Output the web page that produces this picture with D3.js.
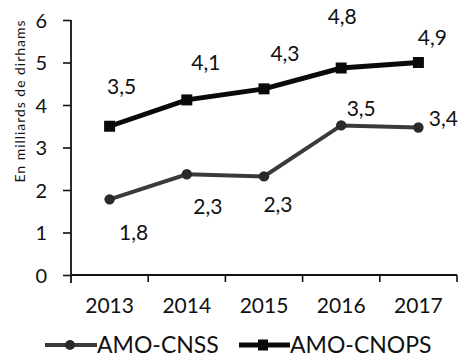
<!DOCTYPE html>
<html>
<head>
<meta charset="utf-8">
<script src="https://cdn.jsdelivr.net/npm/d3@7"></script>
<style>
html,body{margin:0;padding:0;background:#fff;}
svg{display:block;}
text{font-family:Lato,"Open Sans",sans-serif;fill:#111;}
</style>
</head>
<body>
<svg id="chart" width="458" height="358"></svg>
<script>
// ---- data ----
const years = ["2013", "2014", "2015", "2016", "2017"];
const cnssValues = [1.78, 2.37, 2.32, 3.52, 3.47];
const cnopsValues = [3.5, 4.12, 4.38, 4.87, 5.0];
const cnssLabels = ["1,8", "2,3", "2,3", "3,5", "3,4"];
const cnopsLabels = ["3,5", "4,1", "4,3", "4,8", "4,9"];
const yTicks = [0, 1, 2, 3, 4, 5, 6];
const seriesNames = ["AMO-CNSS", "AMO-CNOPS"];
const yTitle = "En milliards de dirhams";

// label placement offsets (pixels, relative to the point)
const cnssLabelOffsets = [[24, 33], [21, 32], [14, 28], [20, -17], [25, -9]];
const cnopsLabelOffsets = [[12, -40], [19, -37], [21, -35], [1, -52], [14, -25]];

// ---- layout ----
const svg = d3.select("#chart");
const mLeft = 71, mRight = 457, mTop = 20, mBottom = 275;

const x = d3.scaleBand().domain(years).range([mLeft, mRight]).paddingInner(0).paddingOuter(0);
const y = d3.scaleLinear().domain([0, 6]).range([mBottom, mTop]);
const cx = d => x(d) + x.bandwidth() / 2;

// y axis
const yAxis = svg.append("g")
  .attr("transform", `translate(${mLeft},0)`)
  .call(d3.axisLeft(y).tickValues(yTicks).tickSize(8).tickSizeOuter(0).tickPadding(16).tickFormat(d3.format("d")));
yAxis.select(".domain").remove();
yAxis.selectAll(".tick line").attr("stroke", "#111").attr("stroke-width", 1.6);
yAxis.selectAll(".tick text").attr("font-size", 20).attr("font-family", "Lato").attr("fill", "#111").attr("dy", "0.36em");
svg.append("line").attr("x1", mLeft).attr("x2", mLeft).attr("y1", y(6)).attr("y2", mBottom + 8)
  .attr("stroke", "#111").attr("stroke-width", 1.8);

// x axis
svg.append("line").attr("x1", mLeft).attr("x2", mRight).attr("y1", mBottom).attr("y2", mBottom)
  .attr("stroke", "#111").attr("stroke-width", 1.8);
const boundaries = years.map(d => x(d)).concat([x(years[years.length - 1]) + x.bandwidth()]);
svg.selectAll(".xtick").data(boundaries.slice(1)).enter().append("line")
  .attr("x1", d => d).attr("x2", d => d).attr("y1", mBottom).attr("y2", mBottom + 7)
  .attr("stroke", "#111").attr("stroke-width", 1.6);
const xAxis = svg.append("g")
  .attr("transform", `translate(0,${mBottom})`)
  .call(d3.axisBottom(x).tickSize(0).tickPadding(0));
xAxis.select(".domain").remove();
xAxis.selectAll(".tick text").attr("font-size", 21).attr("font-family", "Lato").attr("fill", "#111")
  .attr("y", 38).attr("dy", "0");

// y title
svg.append("text")
  .attr("transform", `translate(25,${(mTop + 183) / 2}) rotate(-90)`)
  .attr("text-anchor", "middle")
  .attr("font-size", 14)
  .attr("textLength", 162)
  .attr("lengthAdjust", "spacing")
  .text(yTitle);

// lines
const line = d3.line().x(d => cx(d.year)).y(d => y(d.v));
const cnss = years.map((yr, i) => ({year: yr, v: cnssValues[i], label: cnssLabels[i], off: cnssLabelOffsets[i]}));
const cnops = years.map((yr, i) => ({year: yr, v: cnopsValues[i], label: cnopsLabels[i], off: cnopsLabelOffsets[i]}));

svg.append("path").datum(cnss).attr("d", line).attr("fill", "none")
  .attr("stroke", "#3a3a3a").attr("stroke-width", 4);
svg.append("path").datum(cnops).attr("d", line).attr("fill", "none")
  .attr("stroke", "#0a0a0a").attr("stroke-width", 5);

svg.selectAll(".cnssPt").data(cnss).enter().append("circle")
  .attr("cx", d => cx(d.year)).attr("cy", d => y(d.v)).attr("r", 5.2).attr("fill", "#2a2a2a");
svg.selectAll(".cnopsPt").data(cnops).enter().append("rect")
  .attr("x", d => cx(d.year) - 5.5).attr("y", d => y(d.v) - 5.5).attr("width", 11).attr("height", 11).attr("fill", "#0a0a0a");

// value labels
function labels(data) {
  svg.selectAll(null).data(data).enter().append("text")
    .attr("x", d => cx(d.year) + d.off[0])
    .attr("y", d => y(d.v) + d.off[1])
    .attr("dy", "0.36em")
    .attr("text-anchor", "middle")
    .attr("font-size", 21)
    .text(d => d.label);
}
labels(cnops);
labels(cnss);

// legend
const ly = 345;
const lg = svg.append("g");
lg.append("line").attr("x1", 45).attr("x2", 97).attr("y1", ly).attr("y2", ly).attr("stroke", "#3a3a3a").attr("stroke-width", 4);
lg.append("circle").attr("cx", 70).attr("cy", ly).attr("r", 5).attr("fill", "#2a2a2a");
lg.append("text").attr("x", 97).attr("y", ly).attr("dy", "0.36em").attr("font-size", 23).text(seriesNames[0]);
lg.append("line").attr("x1", 239).attr("x2", 290).attr("y1", ly).attr("y2", ly).attr("stroke", "#0a0a0a").attr("stroke-width", 5);
lg.append("rect").attr("x", 258).attr("y", ly - 5.5).attr("width", 10).attr("height", 11).attr("fill", "#0a0a0a");
lg.append("text").attr("x", 290).attr("y", ly).attr("dy", "0.36em").attr("font-size", 23).text(seriesNames[1]);
</script>
</body>
</html>
